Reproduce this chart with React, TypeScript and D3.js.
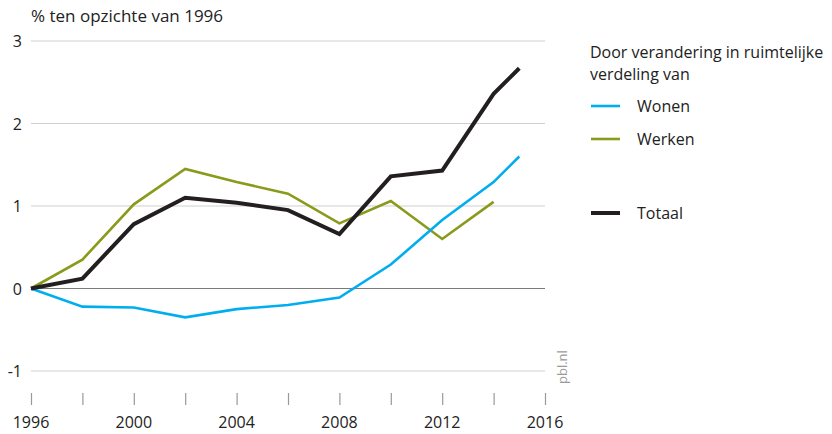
import React, { useEffect, useRef } from 'react';
import * as d3 from 'd3';

const wonenYears = [1996, 1998, 2000, 2002, 2004, 2006, 2008, 2010, 2012, 2014, 2015];
const wonen = [0, -0.22, -0.23, -0.35, -0.25, -0.2, -0.11, 0.29, 0.83, 1.29, 1.6];
const werkenYears = [1996, 1998, 2000, 2002, 2004, 2006, 2008, 2010, 2012, 2014];
const werken = [0, 0.35, 1.02, 1.45, 1.29, 1.15, 0.79, 1.06, 0.6, 1.05];
const totaalYears = [1996, 1998, 2000, 2002, 2004, 2006, 2008, 2010, 2012, 2014, 2015];
const totaal = [0, 0.12, 0.78, 1.1, 1.04, 0.95, 0.66, 1.36, 1.43, 2.36, 2.67];

const yTicks = [-1, 0, 1, 2, 3];
const xTickLabels = [1996, 2000, 2004, 2008, 2012, 2016];

const FONT = "'Open Sans', 'Noto Sans', sans-serif";

const App = () => {
  const ref = useRef<SVGSVGElement>(null);

  useEffect(() => {
    const svg = d3.select(ref.current);
    svg.selectAll('*').remove();

    const x = d3.scaleLinear().domain([1996, 2016]).range([31, 545]);
    const y = d3.scaleLinear().domain([-1, 3]).range([371, 41]);

    // title
    svg.append('text')
      .attr('x', 31).attr('y', 22)
      .style('font-family', FONT).style('font-size', '17px').attr('fill', '#222')
      .text('% ten opzichte van 1996');

    // gridlines
    svg.selectAll('.grid')
      .data(yTicks)
      .enter().append('line')
      .attr('x1', 31).attr('x2', 545)
      .attr('y1', d => y(d)).attr('y2', d => y(d))
      .attr('stroke', d => (d === 0 ? '#7a7a7a' : '#cfcfcf'))
      .attr('stroke-width', 1.2);

    svg.selectAll('.ylab')
      .data(yTicks)
      .enter().append('text')
      .attr('x', 22).attr('y', d => y(d) + 6)
      .attr('text-anchor', 'end')
      .style('font-family', FONT).style('font-size', '16px').attr('fill', '#222')
      .text(d => String(d));

    // x axis ticks (no baseline)
    const xAxis = svg.append('g').attr('transform', 'translate(0,393)');
    xAxis.call(
      d3.axisBottom(x)
        .tickValues(d3.range(1996, 2017, 2))
        .tickSize(12)
        .tickFormat(() => '')
    );
    xAxis.select('.domain').remove();
    xAxis.selectAll('line').attr('stroke', '#999').attr('stroke-width', 1.2);

    svg.selectAll('.xlab')
      .data(xTickLabels)
      .enter().append('text')
      .attr('x', d => x(d)).attr('y', 428)
      .attr('text-anchor', 'middle')
      .style('font-family', FONT).style('font-size', '16px').attr('fill', '#222')
      .text(d => String(d));

    const line = d3.line<[number, number]>().x(d => x(d[0])).y(d => y(d[1]));

    const series = [
      { years: werkenYears, values: werken, color: '#8a9a1b', width: 2.6 },
      { years: wonenYears, values: wonen, color: '#00aeef', width: 2.6 },
      { years: totaalYears, values: totaal, color: '#231f20', width: 4 },
    ];

    series.forEach(s => {
      svg.append('path')
        .datum(s.years.map((yr, i) => [yr, s.values[i]] as [number, number]))
        .attr('d', line)
        .attr('fill', 'none')
        .attr('stroke', s.color)
        .attr('stroke-width', s.width)
        .attr('stroke-linejoin', 'miter');
    });

    // pbl.nl
    svg.append('text')
      .attr('transform', 'translate(567,384) rotate(-90)')
      .style('font-family', FONT).style('font-size', '13px').attr('fill', '#9a9a9a')
      .text('pbl.nl');

    // legend
    const legend = svg.append('g');
    legend.append('text')
      .attr('x', 590).attr('y', 58)
      .style('font-family', FONT).style('font-size', '16px').attr('fill', '#222')
      .text('Door verandering in ruimtelijke');
    legend.append('text')
      .attr('x', 590).attr('y', 80)
      .style('font-family', FONT).style('font-size', '16px').attr('fill', '#222')
      .text('verdeling van');

    const items = [
      { label: 'Wonen', color: '#00aeef', width: 2.6, yPos: 106 },
      { label: 'Werken', color: '#8a9a1b', width: 2.6, yPos: 139 },
      { label: 'Totaal', color: '#231f20', width: 4, yPos: 213 },
    ];
    items.forEach(it => {
      legend.append('line')
        .attr('x1', 591).attr('x2', 620)
        .attr('y1', it.yPos).attr('y2', it.yPos)
        .attr('stroke', it.color).attr('stroke-width', it.width);
      legend.append('text')
        .attr('x', 637).attr('y', it.yPos + 6)
        .style('font-family', FONT).style('font-size', '16px').attr('fill', '#222')
        .text(it.label);
    });
  }, []);

  return <svg ref={ref} width={832} height={434} style={{ display: 'block', position: 'absolute', left: 0, top: 0 }} />;
};

export default App;
